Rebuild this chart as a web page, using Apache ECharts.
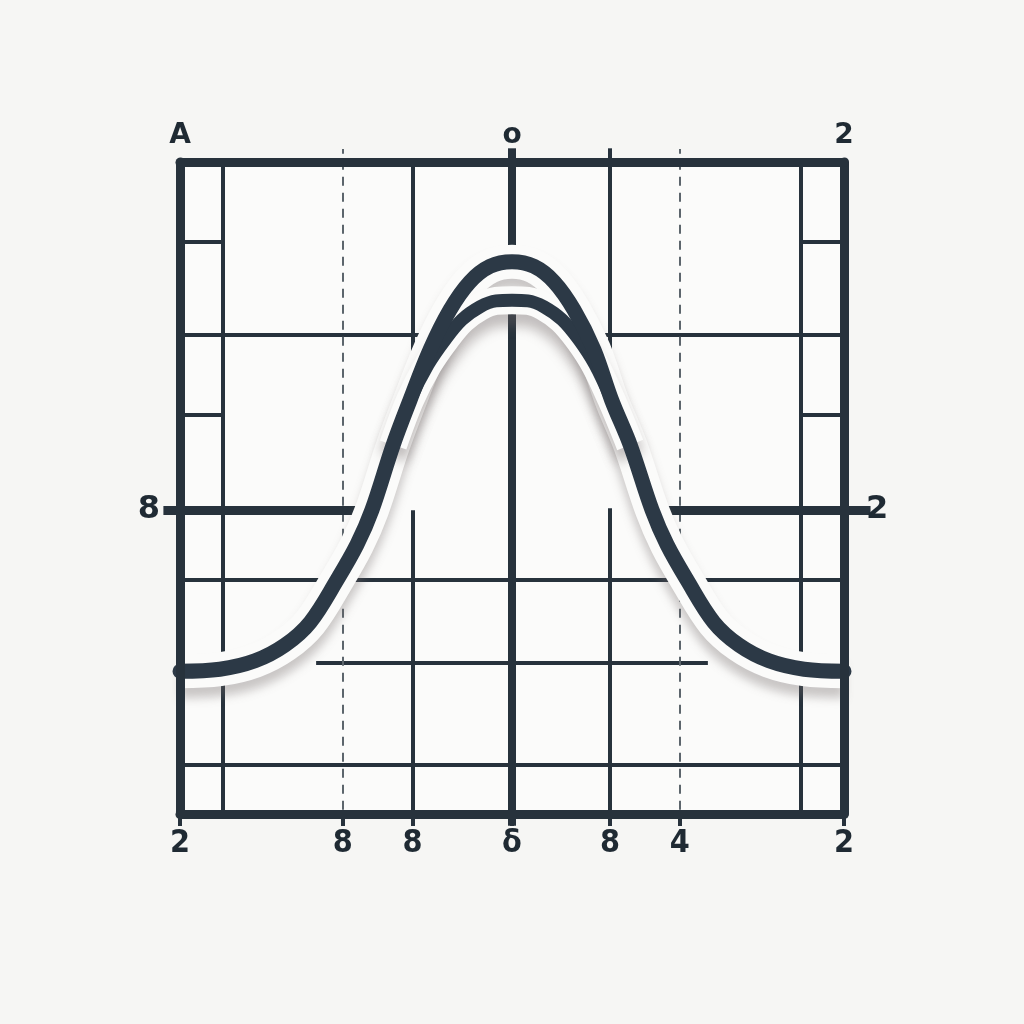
<!DOCTYPE html>
<html>
<head>
<meta charset="utf-8">
<script src="https://cdn.jsdelivr.net/npm/echarts@6/dist/echarts.min.js"></script>
<style>
  html, body { margin: 0; padding: 0; background: #f6f6f4; }
  #main { width: 1024px; height: 1024px; }
</style>
</head>
<body>
<div id="main"></div>
<script>
// tick labels
var bottomTicks = [-10, -5.1, -3.0, 0, 2.95, 5.05, 10];
var bottomLabels = ['2', '8', '8', 'δ', '8', '4', '2'];
var topTicks = [-10, 0, 10];
var topLabels = ['A', 'o', '2'];
var sideTick = [4.66];
var leftLabels = ['8'];
var rightLabels = ['2'];

// outer bell curve
var outerCurve = [
    [-10, 2.19], [-8.8, 2.22], [-7.74, 2.35], [-6.84, 2.59], [-6.08, 2.94],
    [-5.27, 3.59], [-4.67, 4.13], [-4.22, 4.66], [-3.58, 5.66], [-3.07, 6.35],
    [-2.47, 7.12], [-1.87, 7.73], [-1.27, 8.16], [-0.66, 8.4], [0, 8.47],
    [0.66, 8.4], [1.27, 8.16], [1.87, 7.73], [2.47, 7.12], [3.0, 6.35],
    [3.56, 5.66], [4.22, 4.66], [4.67, 4.13], [5.27, 3.59], [6.08, 2.94],
    [6.84, 2.59], [7.74, 2.35], [8.8, 2.22], [10, 2.19]
];
// inner curve (runs into the outer one on both sides)
var innerCurve = [
    [-3.58, 5.66], [-3.07, 6.35], [-2.53, 6.89], [-2.02, 7.27], [-1.51, 7.58],
    [-0.96, 7.78], [-0.48, 7.87], [0, 7.88], [0.48, 7.87], [0.96, 7.78],
    [1.51, 7.58], [2.02, 7.27], [2.5, 6.89], [3.0, 6.35], [3.56, 5.66]
];

// grid segments: rows [y, x1, x2], cols [x, y1, y2]
var gridRows = [
    [8.77, -10, -8.7], [8.77, 8.7, 10],
    [7.35, -10, -2.55], [7.35, 2.5, 10],
    [6.12, -10, -8.7], [6.12, 8.7, 10],
    [3.59, -10, 10],
    [2.32, -5.9, 5.9],
    [0.75, -10, 10]
];
var gridCols = [
    [-8.7, 0, 10], [8.7, 0, 10],
    [-3.0, 5.83, 10], [-3.0, -0.18, 4.66],
    [2.95, 6.8, 10.21], [2.95, -0.18, 4.69]
];
var dashedCols = [[-5.1, -0.18, 10.2], [5.05, -0.18, 10.2]];
var heavyRows = [[4.66, -10.5, -4.52], [4.66, 4.52, 10.8]];
var heavyCols = [[0, 8.7, 10.21], [0, -0.18, 7.69]];

var ink = '#27323c';
var curveInk = '#2c3946';
var paper = '#fbfbfa';

function rowsToLines(rows) {
    return rows.map(function (r) { return { coords: [[r[1], r[0]], [r[2], r[0]]] }; });
}
function colsToLines(cols) {
    return cols.map(function (c) { return { coords: [[c[0], c[1]], [c[0], c[2]]] }; });
}
function pick(vals, labels) {
    return function (v) {
        var i = vals.indexOf(v);
        return i < 0 ? '' : labels[i];
    };
}
function segSeries(data, width, color, type) {
    return {
        type: 'lines',
        coordinateSystem: 'cartesian2d',
        clip: false,
        silent: true,
        z: 1,
        data: data,
        lineStyle: { color: color, width: width, type: type || 'solid', opacity: 1, cap: 'butt' }
    };
}

var frameLine = { show: true, onZero: false, lineStyle: { color: ink, width: 9, cap: 'round' } };

var option = {
    backgroundColor: '#f6f6f4',
    animation: false,
    grid: {
        left: 180, right: 180, top: 162, bottom: 210,
        show: true, backgroundColor: paper, borderWidth: 0
    },
    xAxis: [
        {
            type: 'value', min: -10, max: 10, position: 'bottom', z: 10,
            axisLine: frameLine,
            splitLine: { show: false },
            axisTick: { show: true, customValues: bottomTicks, length: 12, lineStyle: { color: ink, width: 4 } },
            axisLabel: {
                customValues: bottomTicks, formatter: pick(bottomTicks, bottomLabels),
                margin: 14, color: '#1f2a33', fontSize: 32, fontWeight: 'bold',
                fontFamily: '"Liberation Sans Narrow", "DejaVu Sans Condensed", "DejaVu Sans", sans-serif'
            }
        },
        {
            type: 'value', min: -10, max: 10, position: 'top', z: 10,
            axisLine: frameLine,
            splitLine: { show: false },
            axisTick: { show: false },
            axisLabel: {
                customValues: topTicks, formatter: pick(topTicks, topLabels),
                margin: 12, color: '#1f2a33', fontSize: 28, fontWeight: 'bold',
                fontFamily: '"DejaVu Sans", sans-serif'
            }
        }
    ],
    yAxis: [
        {
            type: 'value', min: 0, max: 10, position: 'left', z: 10,
            axisLine: frameLine,
            splitLine: { show: false },
            axisTick: { show: false },
            axisLabel: {
                customValues: sideTick, formatter: pick(sideTick, leftLabels),
                margin: 20, color: '#1f2a33', fontSize: 32, fontWeight: 'bold',
                fontFamily: '"DejaVu Sans", sans-serif'
            }
        },
        {
            type: 'value', min: 0, max: 10, position: 'right', z: 10,
            axisLine: frameLine,
            splitLine: { show: false },
            axisTick: { show: false },
            axisLabel: {
                customValues: sideTick, formatter: pick(sideTick, rightLabels),
                margin: 22, color: '#1f2a33', fontSize: 32, fontWeight: 'bold',
                fontFamily: '"DejaVu Sans", sans-serif'
            }
        }
    ],
    series: [
        segSeries(rowsToLines(gridRows), 4, ink),
        segSeries(colsToLines(gridCols), 4, ink),
        segSeries(colsToLines(dashedCols), 2, '#5c656c', [9, 7]),
        segSeries(rowsToLines(heavyRows), 9, ink),
        segSeries(colsToLines(heavyCols), 8, ink),
        {
            type: 'line', data: outerCurve, smooth: 0.35, showSymbol: false, silent: true, z: 3,
            lineStyle: {
                color: paper, width: 34,
                shadowColor: 'rgba(110,100,100,0.35)', shadowBlur: 10, shadowOffsetY: 10
            }
        },
        {
            type: 'line', data: innerCurve, smooth: 0.35, showSymbol: false, silent: true, z: 3,
            lineStyle: {
                color: paper, width: 28,
                shadowColor: 'rgba(110,100,100,0.4)', shadowBlur: 12, shadowOffsetY: 12
            }
        },
        {
            type: 'line', data: innerCurve, smooth: 0.35, showSymbol: false, silent: true, z: 5,
            lineStyle: { color: curveInk, width: 13, cap: 'round' }
        },
        {
            type: 'line', data: outerCurve, smooth: 0.35, showSymbol: false, silent: true, z: 5,
            lineStyle: { color: curveInk, width: 15, cap: 'round' }
        }
    ]
};

var chart = echarts.init(document.getElementById('main'));
chart.setOption(option);
</script>
</body>
</html>
